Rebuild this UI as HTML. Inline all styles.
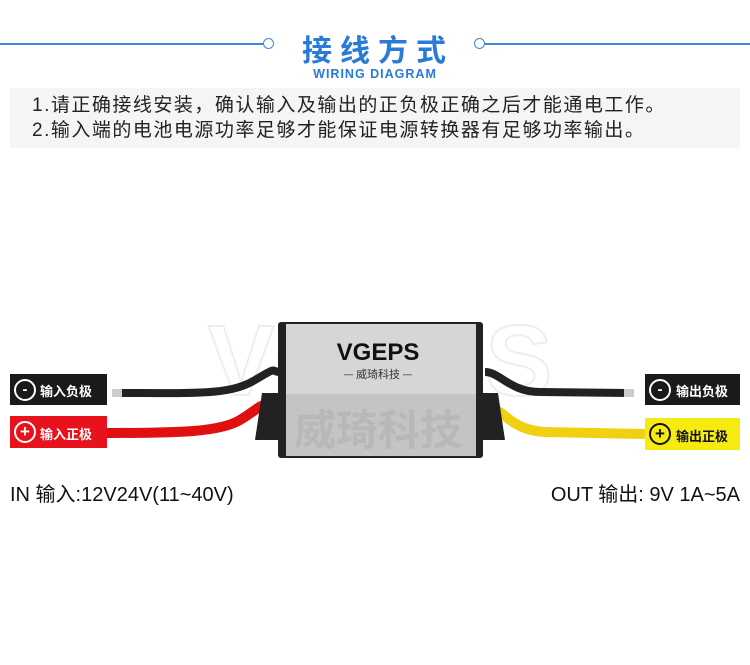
<!DOCTYPE html><html><head><meta charset="utf-8"><style>
body{margin:0;width:750px;height:665px;background:#fff;position:relative;overflow:hidden;font-family:"Liberation Sans","Noto Sans CJK SC",sans-serif}
.a{position:absolute}
</style></head><body>
<div class="a" style="left:0;top:43px;width:265px;height:2px;background:#3d8ad8"></div>
<div class="a" style="left:263px;top:38px;width:9px;height:9px;border:1.5px solid #3d8ad8;border-radius:50%;background:#fff"></div>
<div class="a" style="left:484px;top:43px;width:266px;height:2px;background:#3d8ad8"></div>
<div class="a" style="left:474px;top:38px;width:9px;height:9px;border:1.5px solid #3d8ad8;border-radius:50%;background:#fff"></div>
<div class="a" style="left:290px;top:26px;width:176px;text-align:center;font-size:30px;font-weight:bold;color:#2a7ad8;letter-spacing:8px;white-space:nowrap">接线方式</div>
<div class="a" style="left:275px;top:67px;width:200px;text-align:center;font-size:12.5px;font-weight:bold;color:#2a7ad8;letter-spacing:1px">WIRING DIAGRAM</div>
<div class="a" style="left:10px;top:88px;width:730px;height:60px;background:#f5f5f5"></div>
<div class="a" style="left:32px;top:93px;font-size:19px;letter-spacing:1.5px;color:#222;line-height:25px;white-space:nowrap">1.请正确接线安装，确认输入及输出的正负极正确之后才能通电工作。<br>2.输入端的电池电源功率足够才能保证电源转换器有足够功率输出。</div>
<svg class="a" style="left:0;top:0" width="750" height="665">
<text x="380" y="395" font-size="100" fill="none" stroke="#eee" stroke-width="2" text-anchor="middle" font-family="Liberation Sans" font-weight="bold">VGEPS</text>
<path d="M115 393 C200 393 230 395 255 380 S270 372 280 372" stroke="#222" stroke-width="8" fill="none"/>
<rect x="112" y="389" width="10" height="8" fill="#ccc"/>
<path d="M107 433 C180 433 220 432 240 420 S258 405 268 405" stroke="#e01010" stroke-width="10" fill="none"/>
<path d="M485 372 C500 372 510 392 540 392 L628 393" stroke="#222" stroke-width="8" fill="none"/>
<rect x="624" y="389" width="10" height="8" fill="#ccc"/>
<path d="M490 408 C505 410 510 430 545 432 L645 434" stroke="#f0d010" stroke-width="10" fill="none"/>
<path d="M262 393 L498 393 L505 440 L255 440 Z" fill="#222"/>
<rect x="278" y="322" width="205" height="136" fill="#222" rx="3"/>
<rect x="286" y="324" width="190" height="70" fill="#d6d6d6"/>
<rect x="286" y="394" width="190" height="62" fill="#c4c4c4"/>
<text x="378" y="360" font-size="24" font-weight="bold" text-anchor="middle" fill="#111" font-family="Liberation Sans">VGEPS</text>
<text x="378" y="378" font-size="11" text-anchor="middle" fill="#333" font-family="Noto Sans CJK SC">— 威琦科技 —</text>
<text x="378" y="445" font-size="42" text-anchor="middle" fill="#b8b8b8" font-weight="bold" font-family="Noto Sans CJK SC">威琦科技</text>
</svg>
<div class="a" style="left:10px;top:374px;width:97px;height:31px;background:#1a1a1a"></div>
<div class="a" style="left:10px;top:416px;width:97px;height:32px;background:#e8121c"></div>
<div class="a" style="left:645px;top:374px;width:95px;height:31px;background:#1a1a1a"></div>
<div class="a" style="left:645px;top:418px;width:95px;height:32px;background:#f7ea10"></div>
<div class="a" style="left:14px;top:379px;width:18px;height:18px;border:2.5px solid #fff;border-radius:50%;color:#fff;font-size:15px;font-weight:bold;text-align:center;line-height:17px">-</div>
<div class="a" style="left:40px;top:381px;font-size:13px;font-weight:bold;color:#fff">输入负极</div>
<div class="a" style="left:14px;top:421px;width:18px;height:18px;border:2.5px solid #fff;border-radius:50%;color:#fff;font-size:17px;font-weight:bold;text-align:center;line-height:18px">+</div>
<div class="a" style="left:40px;top:424px;font-size:13px;font-weight:bold;color:#fff">输入正极</div>
<div class="a" style="left:649px;top:379px;width:18px;height:18px;border:2.5px solid #fff;border-radius:50%;color:#fff;font-size:15px;font-weight:bold;text-align:center;line-height:17px">-</div>
<div class="a" style="left:676px;top:381px;font-size:13px;font-weight:bold;color:#fff">输出负极</div>
<div class="a" style="left:649px;top:423px;width:18px;height:18px;border:2.5px solid #111;border-radius:50%;color:#111;font-size:17px;font-weight:bold;text-align:center;line-height:18px">+</div>
<div class="a" style="left:676px;top:426px;font-size:13px;font-weight:bold;color:#111">输出正极</div>
<div class="a" style="left:10px;top:478px;font-size:20px;color:#111;white-space:nowrap">IN 输入:12V24V(11~40V)</div>
<div class="a" style="right:10px;top:478px;font-size:20px;color:#111;white-space:nowrap">OUT 输出: 9V 1A~5A</div>
</body></html>
